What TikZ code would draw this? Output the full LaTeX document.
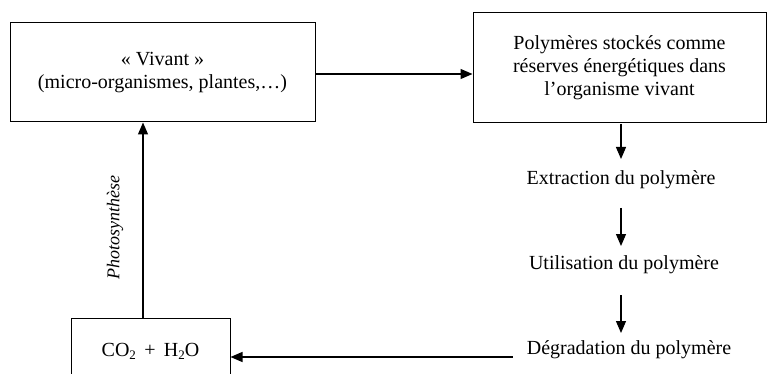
\documentclass[tikz,border=0pt]{standalone}
\usepackage{fontspec}
\setmainfont{Liberation Serif}
\usetikzlibrary{arrows.meta}
\newcommand{\lowsub}[1]{\raisebox{-0.35ex}{\fontsize{13}{13}\selectfont #1}}
\begin{document}
\begin{tikzpicture}[x=1pt,y=-1pt,
  box/.style={draw,line width=1pt,inner sep=0pt,align=center,font=\fontsize{20}{23}\selectfont},
  lbl/.style={inner sep=0pt,font=\fontsize{20}{23}\selectfont},
  arr/.style={line width=1.2pt,-{Triangle[length=12pt,width=10pt]}}]
\useasboundingbox (0,0) rectangle (768,374);
\clip (0,0) rectangle (768,374);
\node[box,minimum width=305pt,minimum height=99pt] (viv) at (162.5,72.5) {« Vivant »\\(micro-organismes, plantes,…)};
\node[box,minimum width=293pt,minimum height=110pt] (poly) at (619.5,68) {Polymères stockés comme\\réserves énergétiques dans\\l’organisme vivant};
\node[lbl] (ext) at (621,180) {Extraction du polymère};
\node[lbl] (uti) at (624,265) {Utilisation du polymère};
\node[lbl] (deg) at (629,350) {Dégradation du polymère};
\node[box,minimum width=159pt,minimum height=66pt] (co2) at (150.5,351) {CO\lowsub{2} \,+\, H\lowsub{2}O};
\node[rotate=90,inner sep=0pt,font=\fontsize{18}{20}\selectfont\itshape] (photo) at (115,228) {Photosynthèse};
\coordinate (a1) at (621,124);
\coordinate (a1e) at (621,159);
\coordinate (a2) at (621,208);
\coordinate (a2e) at (621,246);
\coordinate (a3) at (621,295);
\coordinate (a3e) at (621,333);
\draw[arr] (viv.east |- 0,74) -- (poly.west |- 0,74);
\draw[arr] (a1) -- (a1e);
\draw[arr] (a2) -- (a2e);
\draw[arr] (a3) -- (a3e);
\draw[arr] (deg.west |- 0,357) ++(-14,0) -- (co2.east |- 0,357);
\draw[arr] (co2.north -| 143,0) -- (viv.south -| 143,0);
\end{tikzpicture}
\end{document}
